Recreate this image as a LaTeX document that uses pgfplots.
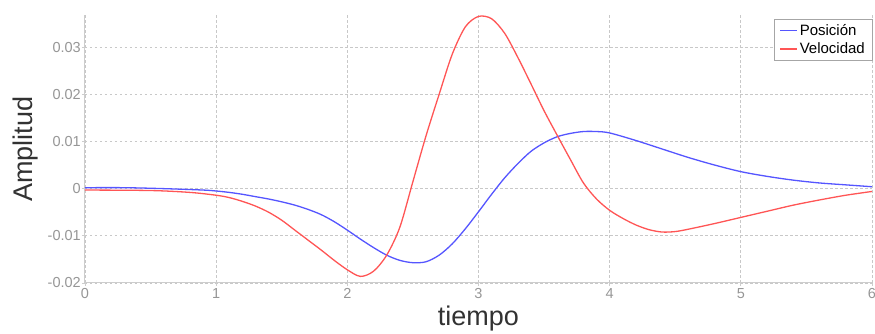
\documentclass[border=0pt]{standalone}
\usepackage{fontspec}
\setmainfont{Liberation Sans}
\usepackage{pgfplots}
\pgfplotsset{compat=1.18}
\definecolor{posblue}{RGB}{85,85,255}
\definecolor{velred}{RGB}{255,85,85}
\definecolor{gridgray}{RGB}{200,200,200}
\definecolor{axgray}{RGB}{205,205,205}
\definecolor{tickgray}{RGB}{150,150,150}
\definecolor{labgray}{RGB}{50,50,50}
\begin{document}
\begin{tikzpicture}
\begin{axis}[
  scale only axis,
  width=787pt, height=268pt,
  xmin=0, xmax=6, ymin=-0.02, ymax=0.0368,
  axis x line*=bottom, axis y line*=left,
  axis line style={axgray, line width=1pt},
  xtick={0,1,2,3,4,5,6},
  xticklabels={0,1,2,3,4,5,6},
  ytick={-0.02,-0.01,0,0.01,0.02,0.03},
  yticklabels={-0.02,-0.01,0,0.01,0.02,0.03},
  scaled y ticks=false,
  tick align=outside,
  major tick length=3pt,
  tick style={axgray, line width=0.8pt},
  ticklabel style={font=\fontsize{14.5}{16}\selectfont, text=tickgray},
  yticklabel style={inner sep=1pt},
  xticklabel style={inner sep=2pt},
  grid=major,
  major grid style={gridgray, line width=0.8pt, dash pattern=on 2.5pt off 2.5pt},
  xlabel={tiempo}, ylabel={Amplitud},
  label style={font=\fontsize{27}{30}\selectfont, text=labgray},
  xlabel style={at={(axis description cs:0.5,-0.1604)}, anchor=base},
  ylabel style={at={(axis description cs:-0.0661,0.5)}, anchor=base, rotate=0},
  legend style={at={(axis description cs:1,1)}, anchor=north east, xshift=0pt, yshift=-4pt,
    draw=gray!70, font=\fontsize{15}{17}\selectfont,
    inner xsep=5pt, inner ysep=3pt, row sep=2pt},
  legend cell align=left,
]
\addplot[posblue, line width=1.3pt, smooth] coordinates {
(0,0.0002) (0.3,0.0002) (0.6,0.0000) (0.9,-0.0003) (1.0,-0.0005) (1.1,-0.0008)
(1.2,-0.0012) (1.3,-0.0017) (1.4,-0.0022) (1.5,-0.0028) (1.6,-0.0035) (1.7,-0.0044)
(1.8,-0.0055) (1.9,-0.0070) (2.0,-0.0088) (2.1,-0.0107) (2.2,-0.0125) (2.3,-0.0141)
(2.4,-0.0152) (2.5,-0.0157) (2.6,-0.0155) (2.7,-0.0141) (2.8,-0.0117) (2.9,-0.0085)
(3.0,-0.0049) (3.1,-0.0012) (3.2,0.0023) (3.3,0.0053) (3.4,0.0079) (3.5,0.0097)
(3.6,0.0110) (3.7,0.0117) (3.8,0.0121) (3.9,0.0121) (4.0,0.0118) (4.2,0.0102)
(4.4,0.0084) (4.6,0.0066) (4.8,0.0050) (5.0,0.0036) (5.2,0.0026) (5.4,0.0018)
(5.6,0.0012) (5.8,0.0008) (6.0,0.0004)
};
\addlegendentry{Posición}
\addplot[velred, line width=1.3pt, smooth] coordinates {
(0,-0.0003) (0.5,-0.0004) (0.8,-0.0008) (1.0,-0.0014) (1.1,-0.0019) (1.2,-0.0027)
(1.3,-0.0037) (1.4,-0.0050) (1.5,-0.0067) (1.6,-0.0088) (1.7,-0.0109) (1.8,-0.0130)
(1.9,-0.0152) (2.0,-0.0172) (2.1,-0.0186) (2.2,-0.0175) (2.3,-0.0141) (2.4,-0.0082)
(2.5,0.0015) (2.6,0.0112) (2.7,0.0200) (2.8,0.0285) (2.9,0.0343) (3.0,0.0365)
(3.1,0.0360) (3.2,0.0329) (3.3,0.0278) (3.4,0.0222) (3.5,0.0165) (3.6,0.0113)
(3.7,0.0062) (3.8,0.0012) (3.9,-0.0022) (4.0,-0.0046) (4.1,-0.0063) (4.2,-0.0077)
(4.3,-0.0087) (4.4,-0.0092) (4.5,-0.0091) (4.6,-0.0086) (4.8,-0.0074) (5.0,-0.0061)
(5.2,-0.0048) (5.4,-0.0035) (5.6,-0.0024) (5.8,-0.0014) (6.0,-0.0006)
};
\addlegendentry{Velocidad}
\end{axis}
\pgfresetboundingbox
\path[use as bounding box] (-85pt,-51pt) rectangle (790pt,283pt);
\end{tikzpicture}
\end{document}
